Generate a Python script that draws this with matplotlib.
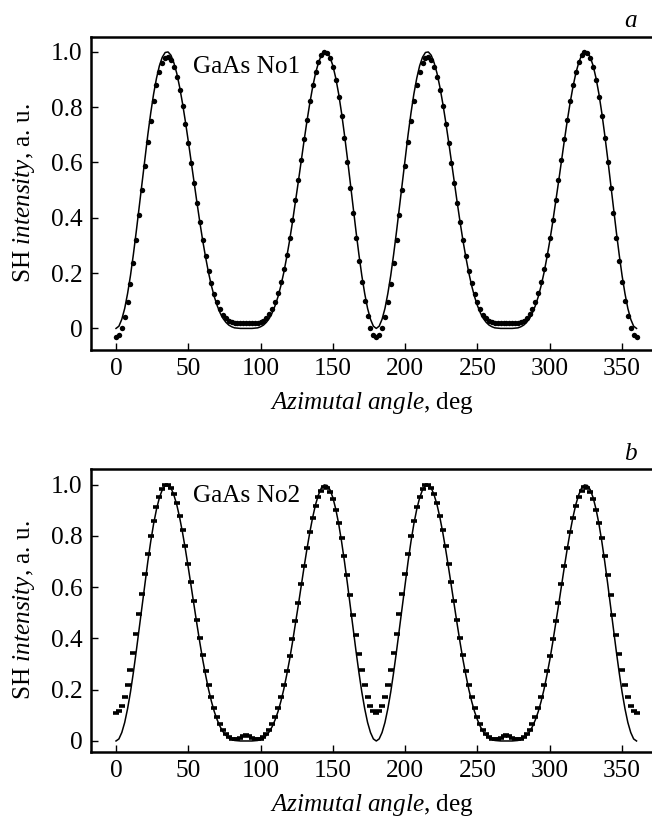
import numpy as np
import matplotlib
matplotlib.use("Agg")
import matplotlib.pyplot as plt

plt.rcParams['font.family'] = ['Liberation Serif', 'DejaVu Serif']
plt.rcParams['mathtext.fontset'] = 'custom'
plt.rcParams['mathtext.rm'] = 'Liberation Serif'
plt.rcParams['mathtext.it'] = 'Liberation Serif:italic'

# ---------------- data (angle step 2 deg, 0..360) ----------------
fit_a = [
    0.000, 0.008, 0.033, 0.072, 0.126, 0.191, 0.267, 0.350, 0.438, 0.527, 0.616, 0.700, 0.778, 0.847, 0.904, 0.949,
    0.980, 0.997, 0.999, 0.987, 0.960, 0.922, 0.872, 0.813, 0.747, 0.676, 0.602, 0.527, 0.454, 0.383, 0.316, 0.256,
    0.201, 0.154, 0.114, 0.082, 0.056, 0.036, 0.022, 0.012, 0.006, 0.002, 0.001, 0.000, 0.000, 0.000,
    0.000, 0.000, 0.001, 0.002, 0.006, 0.012, 0.022, 0.036, 0.056, 0.082, 0.114, 0.154, 0.201, 0.256, 0.316, 0.383,
    0.454, 0.527, 0.602, 0.676, 0.747, 0.813, 0.872, 0.922, 0.960, 0.987, 0.999, 0.997, 0.980, 0.949, 0.904, 0.847,
    0.778, 0.700, 0.616, 0.527, 0.438, 0.350, 0.267, 0.191, 0.126, 0.072, 0.033, 0.008, 0.000,
    0.008, 0.033, 0.072, 0.126, 0.191, 0.267, 0.350, 0.438, 0.527, 0.616, 0.700, 0.778, 0.847, 0.904, 0.949,
    0.980, 0.997, 0.999, 0.987, 0.960, 0.922, 0.872, 0.813, 0.747, 0.676, 0.602, 0.527, 0.454, 0.383, 0.316, 0.256,
    0.201, 0.154, 0.114, 0.082, 0.056, 0.036, 0.022, 0.012, 0.006, 0.002, 0.001, 0.000, 0.000, 0.000,
    0.000, 0.000, 0.001, 0.002, 0.006, 0.012, 0.022, 0.036, 0.056, 0.082, 0.114, 0.154, 0.201, 0.256, 0.316, 0.383,
    0.454, 0.527, 0.602, 0.676, 0.747, 0.813, 0.872, 0.922, 0.960, 0.987, 0.999, 0.997, 0.980, 0.949, 0.904, 0.847,
    0.778, 0.700, 0.616, 0.527, 0.438, 0.350, 0.267, 0.191, 0.126, 0.072, 0.033, 0.008, 0.000,
]

data_a = [
    -0.030, -0.022, 0.003, 0.042, 0.096, 0.162, 0.238, 0.321, 0.409, 0.499, 0.588, 0.673, 0.751, 0.821, 0.879, 0.926,
    0.958, 0.976, 0.980, 0.969, 0.945, 0.908, 0.860, 0.803, 0.739, 0.670, 0.598, 0.526, 0.454, 0.385, 0.321, 0.262,
    0.209, 0.163, 0.125, 0.094, 0.069, 0.050, 0.037, 0.028, 0.023, 0.020, 0.018, 0.018, 0.018, 0.018,
    0.018, 0.018, 0.018, 0.020, 0.023, 0.028, 0.037, 0.051, 0.070, 0.095, 0.127, 0.166, 0.213, 0.267, 0.327, 0.393,
    0.463, 0.536, 0.610, 0.684, 0.754, 0.820, 0.878, 0.926, 0.964, 0.989, 1.000, 0.996, 0.978, 0.945, 0.898, 0.838,
    0.767, 0.687, 0.600, 0.509, 0.418, 0.328, 0.243, 0.166, 0.098, 0.044, 0.003, -0.022, -0.030,
    -0.022, 0.003, 0.042, 0.096, 0.162, 0.238, 0.321, 0.409, 0.499, 0.588, 0.673, 0.751, 0.821, 0.879, 0.926,
    0.958, 0.976, 0.980, 0.969, 0.945, 0.908, 0.860, 0.803, 0.739, 0.670, 0.598, 0.526, 0.454, 0.385, 0.321, 0.262,
    0.209, 0.163, 0.125, 0.094, 0.069, 0.050, 0.037, 0.028, 0.023, 0.021, 0.020, 0.020, 0.020, 0.020,
    0.020, 0.020, 0.020, 0.021, 0.023, 0.028, 0.037, 0.051, 0.070, 0.095, 0.127, 0.166, 0.213, 0.267, 0.327, 0.393,
    0.463, 0.536, 0.610, 0.684, 0.754, 0.820, 0.878, 0.926, 0.964, 0.989, 1.000, 0.996, 0.978, 0.945, 0.898, 0.838,
    0.767, 0.687, 0.600, 0.509, 0.418, 0.328, 0.243, 0.166, 0.098, 0.044, 0.003, -0.022, -0.030,
]

fit_b = list(fit_a)

data_b = [
    0.110, 0.117, 0.138, 0.173, 0.220, 0.278, 0.344, 0.418, 0.495, 0.574, 0.653, 0.728, 0.798, 0.860, 0.912, 0.953,
    0.982, 0.997, 0.999, 0.987, 0.963, 0.927, 0.879, 0.823, 0.760, 0.691, 0.619, 0.545, 0.472, 0.402, 0.335, 0.274,
    0.218, 0.170, 0.128, 0.093, 0.066, 0.044, 0.028, 0.017, 0.009, 0.007, 0.007, 0.013, 0.020, 0.024,
    0.020, 0.013, 0.007, 0.007, 0.009, 0.017, 0.028, 0.044, 0.066, 0.093, 0.128, 0.170, 0.217, 0.272, 0.332, 0.398,
    0.467, 0.540, 0.613, 0.684, 0.752, 0.815, 0.870, 0.918, 0.953, 0.977, 0.989, 0.987, 0.972, 0.944, 0.903, 0.851,
    0.790, 0.721, 0.646, 0.568, 0.490, 0.414, 0.341, 0.275, 0.218, 0.172, 0.137, 0.116, 0.109,
    0.117, 0.138, 0.173, 0.220, 0.278, 0.344, 0.418, 0.495, 0.574, 0.653, 0.728, 0.798, 0.860, 0.912, 0.953,
    0.982, 0.997, 0.999, 0.987, 0.963, 0.927, 0.879, 0.823, 0.760, 0.691, 0.619, 0.545, 0.472, 0.402, 0.335, 0.274,
    0.218, 0.170, 0.128, 0.093, 0.066, 0.044, 0.028, 0.017, 0.009, 0.007, 0.007, 0.013, 0.020, 0.024,
    0.020, 0.013, 0.007, 0.007, 0.009, 0.017, 0.028, 0.044, 0.066, 0.093, 0.128, 0.170, 0.217, 0.272, 0.332, 0.398,
    0.467, 0.540, 0.613, 0.684, 0.752, 0.815, 0.870, 0.918, 0.953, 0.977, 0.989, 0.987, 0.972, 0.944, 0.903, 0.851,
    0.790, 0.721, 0.646, 0.568, 0.490, 0.414, 0.341, 0.275, 0.218, 0.172, 0.137, 0.116, 0.109,
]

x_ticks = [0, 50, 100, 150, 200, 250, 300, 350]
x_ticklabels = ['0', '50', '100', '150', '200', '250', '300', '350']
y_ticks = [0, 0.2, 0.4, 0.6, 0.8, 1.0]
y_ticklabels = ['0', '0.2', '0.4', '0.6', '0.8', '1.0']
sample_labels = ['GaAs No1', 'GaAs No2']
panel_letters = ['a', 'b']

# ---------------- figure ----------------
W, H = 652, 818
fig = plt.figure(figsize=(W / 100, H / 100), dpi=100)

FS = 18.2

def px_axes(left, top, right, bottom):
    return fig.add_axes([left / W, 1 - bottom / H, (right - left) / W, (bottom - top) / H])

ax_a = px_axes(91, 37, 652, 350)
ax_b = px_axes(91, 469, 652, 752)

def style(ax, ylim, label_y):
    ax.set_xlim(-17.3, 370.7)
    ax.set_ylim(*ylim)
    for s in ['left', 'top', 'bottom']:
        ax.spines[s].set_linewidth(1.8)
    ax.spines['right'].set_visible(False)
    ax.set_xticks(x_ticks)
    ax.set_xticklabels(x_ticklabels)
    ax.set_yticks(y_ticks)
    ax.set_yticklabels(y_ticklabels)
    ax.tick_params(direction='in', length=5, width=1.0, labelsize=FS, pad=6,
                   top=False, right=False)
    ax.set_xlabel(r'$\mathit{Azimutal\ angle}$, deg', fontsize=FS)
    ax.xaxis.set_label_coords(0.5, label_y)
    ax.set_ylabel(r'SH $\mathit{intensity}$, a. u.', fontsize=FS)
    ax.yaxis.set_label_coords(-0.097, 0.5)

# panel a
ang_fa = np.linspace(0, 360, len(fit_a))
ang_da = np.linspace(0, 360, len(data_a))
ax_a.plot(ang_fa, fit_a, color='black', lw=1.1)
ax_a.plot(ang_da, data_a, linestyle='none', marker='o', markersize=3.9,
          color='black', markeredgewidth=0)
style(ax_a, (-0.078, 1.053), -0.128)
ax_a.text(53, 0.923, sample_labels[0], fontsize=FS, va='baseline', ha='left')

# panel b
ang_fb = np.linspace(0, 360, len(fit_b))
ang_db = np.linspace(0, 360, len(data_b))
ax_b.plot(ang_fb, fit_b, color='black', lw=1.1)
ax_b.plot(ang_db, data_b, linestyle='none', marker='_', markersize=5.0,
          color='black', markeredgewidth=2.6)
style(ax_b, (-0.043, 1.061), -0.142)
ax_b.text(53, 0.934, sample_labels[1], fontsize=FS, va='baseline', ha='left')

fig.text(637 / W, 1 - 27 / H, panel_letters[0], fontsize=FS, style='italic',
         ha='right', va='baseline')
fig.text(637 / W, 1 - 460 / H, panel_letters[1], fontsize=FS, style='italic',
         ha='right', va='baseline')

fig.savefig('out.png', dpi=100)
